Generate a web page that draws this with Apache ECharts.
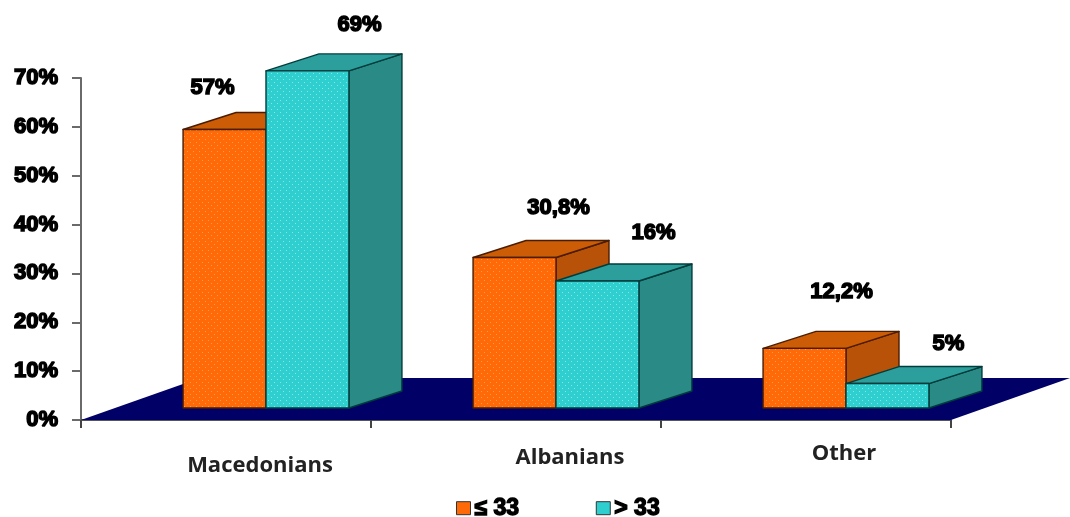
<!DOCTYPE html>
<html><head><meta charset="utf-8">
<style>html,body{margin:0;padding:0;background:#fff}#c{width:1070px;height:517px}</style>
<script src="https://cdn.jsdelivr.net/npm/echarts@6/dist/echarts.min.js"></script>
</head><body><div id="c"></div>
<script>
const categories = ['Macedonians', 'Albanians', 'Other'];
const groupNames = ['≤ 33', '> 33'];
const lowValues = [57, 30.8, 12.2];
const highValues = [69, 26, 5];
const lowLabels = ['57%', '30,8%', '12,2%'];
const highLabels = ['69%', '16%', '5%'];
const yTicks = [0, 10, 20, 30, 40, 50, 60, 70];

// layout constants of the pseudo-3D projection
const DEPTH_X = 53, DEPTH_Y = 17, FLOOR_X = 119, FLOOR_Y = 42, BASE_LIFT = 12, BASE_SHIFT = 40, BAR_RATIO = 0.286;
const LABEL_OFFSETS = [
  [[-12, -42], [44, -50], [37, -56]],
  [[52, -46], [56, -48], [61, -40]]
];
const PALETTE = [
  {front: '#ff6a08', dot: '#ff9a4a', top: '#cc5c06', side: '#b85208', edge: '#4a1c00'},
  {front: '#2fcfcf', dot: '#86e6e6', top: '#2c9f9c', side: '#2a8a85', edge: '#003c3c'}
];
const HEAVY = {fontFamily: '"Liberation Sans"', fontWeight: 'bold', fontSize: 22, color: '#000'};

function dots(bg, dot) {
  const c = document.createElement('canvas'); c.width = 6; c.height = 6;
  const g = c.getContext('2d');
  g.fillStyle = bg; g.fillRect(0, 0, 6, 6);
  g.fillStyle = dot; g.fillRect(1, 1, 1, 1); g.fillRect(4, 4, 1, 1);
  return {image: c, repeat: 'repeat'};
}

function barRenderer(g) {
  const pal = PALETTE[g];
  const frontFill = dots(pal.front, pal.dot);
  return function (params, api) {
    const i = api.value(0), v = api.value(1);
    const cx = api.coord([i, 0])[0] + BASE_SHIFT;
    const base = api.coord([i, 0])[1] - BASE_LIFT;
    const h = api.coord([i, 0])[1] - api.coord([i, v])[1];
    const w = api.size([1, 0])[0] * BAR_RATIO;
    const x0 = g === 0 ? cx - w : cx, x1 = x0 + w, top = base - h;
    const poly = (pts, fill) => ({type: 'polygon', shape: {points: pts},
      style: {fill: fill, stroke: pal.edge, lineWidth: 1.4, lineJoin: 'round'}});
    const off = LABEL_OFFSETS[g][i];
    return {type: 'group', children: [
      poly([[x1, top], [x1 + DEPTH_X, top - DEPTH_Y], [x1 + DEPTH_X, base - DEPTH_Y], [x1, base]], pal.side),
      poly([[x0, top], [x0 + DEPTH_X, top - DEPTH_Y], [x1 + DEPTH_X, top - DEPTH_Y], [x1, top]], pal.top),
      poly([[x0, top], [x1, top], [x1, base], [x0, base]], frontFill),
      {type: 'text', z2: 50, style: {
        x: (x0 + x1) / 2 + off[0], y: top + off[1],
        text: (g === 0 ? lowLabels : highLabels)[i],
        align: 'center', verticalAlign: 'middle',
        font: 'bold 22px "Liberation Sans"', fill: '#000', stroke: '#000', lineWidth: 1.5
      }}
    ]};
  };
}

function floorRenderer(params) {
  const s = params.coordSys, b = s.y + s.height, r = s.x + s.width;
  return {type: 'polygon', shape: {points: [[s.x, b], [r, b], [r + FLOOR_X, b - FLOOR_Y], [s.x + FLOOR_X, b - FLOOR_Y]]},
    style: {fill: '#000066'}};
}

const catStyle = (pad) => ({padding: pad});
const chart = echarts.init(document.getElementById('c'));
chart.setOption({
  animation: false,
  backgroundColor: '#fff',
  grid: {left: 81, right: 119, top: 78, bottom: 97},
  legend: {
    data: groupNames, left: 451, top: 491, icon: 'rect',
    itemWidth: 14, itemHeight: 13, itemGap: 76,
    itemStyle: {borderColor: '#333', borderWidth: 1},
    textStyle: Object.assign({}, HEAVY, {fontSize: 23, padding: [0, 0, 0, -1], textBorderColor: '#000', textBorderWidth: 1.4})
  },
  xAxis: {
    type: 'category',
    data: [
      {value: categories[0], textStyle: catStyle([12, 0, 0, 68])},
      {value: categories[1], textStyle: catStyle([4, 0, 0, 108])},
      {value: categories[2], textStyle: catStyle([0, 0, 0, 76])}
    ],
    boundaryGap: true,
    axisLine: {lineStyle: {color: '#555', width: 2}},
    axisTick: {show: true, length: 8, alignWithLabel: false, lineStyle: {color: '#444', width: 2}},
    axisLabel: {margin: 23, interval: 0, fontFamily: '"Open Sans"', fontWeight: 'bold', fontSize: 22, color: '#222'}
  },
  yAxis: {
    type: 'value', min: yTicks[0], max: yTicks[yTicks.length - 1], interval: 10,
    splitLine: {show: false},
    axisLine: {show: true, lineStyle: {color: '#6a6a6a', width: 2}},
    axisTick: {show: true, length: 9, lineStyle: {color: '#6a6a6a', width: 2}},
    axisLabel: Object.assign({}, HEAVY, {margin: 23, formatter: '{value}%', textBorderColor: '#000', textBorderWidth: 1.5})
  },
  series: [
    {type: 'custom', name: 'floor', renderItem: floorRenderer, data: [[0, 0]], silent: true, z: 1,
      encode: {x: 0, y: 1}, clip: false},
    {type: 'custom', name: groupNames[0], renderItem: barRenderer(0), z: 3, clip: false,
      itemStyle: {color: PALETTE[0].front}, encode: {x: 0, y: 1},
      data: lowValues.map((v, i) => [i, v])},
    {type: 'custom', name: groupNames[1], renderItem: barRenderer(1), z: 4, clip: false,
      itemStyle: {color: PALETTE[1].front}, encode: {x: 0, y: 1},
      data: highValues.map((v, i) => [i, v])}
  ]
});
</script></body></html>
